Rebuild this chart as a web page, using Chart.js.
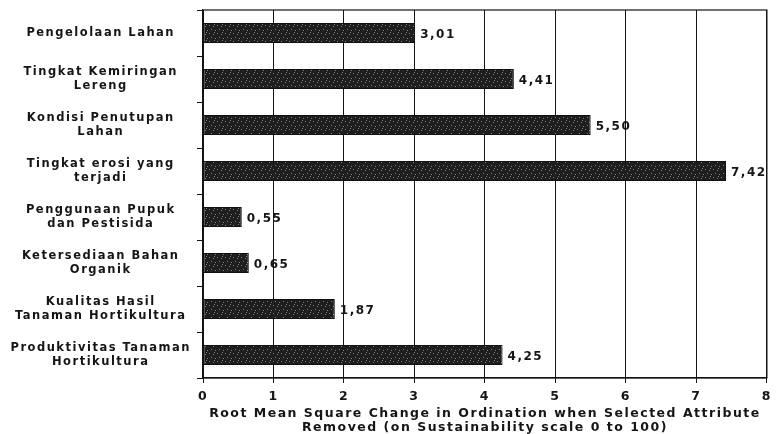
<!DOCTYPE html>
<html>
<head>
<meta charset="utf-8">
<script src="https://cdn.jsdelivr.net/npm/chart.js@4.4.1/dist/chart.umd.min.js"></script>
<style>
  html, body { margin: 0; padding: 0; background: #fff; }
  #wrap { width: 778px; height: 434px; }
</style>
</head>
<body>
<div id="wrap"><canvas id="chart_rms"></canvas></div>
<script>
const attributes = [
    'Pengelolaan Lahan',
    ['Tingkat Kemiringan', 'Lereng'],
    ['Kondisi Penutupan', 'Lahan'],
    ['Tingkat erosi yang', 'terjadi'],
    ['Penggunaan Pupuk', 'dan Pestisida'],
    ['Ketersediaan Bahan', 'Organik'],
    ['Kualitas Hasil', 'Tanaman Hortikultura'],
    ['Produktivitas Tanaman', 'Hortikultura']
];
const rmsValues = [3.01, 4.41, 5.50, 7.42, 0.55, 0.65, 1.87, 4.25];
const xTicks = [0, 1, 2, 3, 4, 5, 6, 7, 8];
const xTitle = ['Root Mean Square Change in Ordination when Selected Attribute', 'Removed (on Sustainability scale 0 to 100)'];

const ink = '#151515';
const fontFamily = '"DejaVu Sans", Verdana, sans-serif';

// speckled dark fill, like the scanned bars
function speckle() {
    const c = document.createElement('canvas');
    c.width = 8; c.height = 8;
    const g = c.getContext('2d');
    g.fillStyle = '#1e1e1e';
    g.fillRect(0, 0, 8, 8);
    g.fillStyle = '#808080';
    [[1, 1], [5, 2], [3, 5], [7, 6], [6, 0]].forEach(function (p) {
        g.fillRect(p[0], p[1], 1, 1);
    });
    return g.createPattern(c, 'repeat');
}

// the scanned lettering is wide, so open it up a little
const spacing = {
    id: 'spacing',
    beforeLayout(chart) { chart.ctx.letterSpacing = '1.5px'; },
    beforeDraw(chart) { chart.ctx.letterSpacing = '1.5px'; }
};

const frame = {
    id: 'frame',
    afterDraw(chart) {
        const a = chart.chartArea;
        const ctx = chart.ctx;
        ctx.save();
        ctx.strokeStyle = ink;
        ctx.lineWidth = 1.2;
        ctx.strokeRect(a.left, a.top, a.right - a.left, a.bottom - a.top);
        ctx.restore();
    }
};

const valueLabels = {
    id: 'valueLabels',
    afterDatasetsDraw(chart) {
        const ctx = chart.ctx;
        const meta = chart.getDatasetMeta(0);
        ctx.save();
        ctx.font = 'bold 12px ' + fontFamily;
        ctx.fillStyle = ink;
        ctx.textBaseline = 'middle';
        ctx.textAlign = 'left';
        meta.data.forEach(function (bar, i) {
            const txt = rmsValues[i].toFixed(2).replace('.', ',');
            ctx.fillText(txt, bar.x + 5, bar.y + 2);
        });
        ctx.restore();
    }
};

const data = {
    labels: attributes,
    datasets: [{
        data: rmsValues,
        backgroundColor: speckle(),
        borderColor: '#111',
        borderWidth: 1,
        borderSkipped: false,
        categoryPercentage: 1,
        barPercentage: 0.44
    }]
};

const config = {
    type: 'bar',
    data: data,
    options: {
        indexAxis: 'y',
        responsive: true,
        maintainAspectRatio: false,
        animation: false,
        layout: { padding: { left: 2, right: 11, top: 10, bottom: 0 } },
        plugins: {
            legend: { display: false },
            tooltip: { enabled: false }
        },
        scales: {
            x: {
                min: 0,
                max: 8,
                afterBuildTicks: function (scale) {
                    scale.ticks = xTicks.map(function (v) { return { value: v }; });
                },
                afterFit: function (scale) { scale.height = 56; },
                grid: { color: ink, lineWidth: 1, tickLength: 5 },
                border: { color: ink, width: 1.2 },
                ticks: {
                    color: ink,
                    padding: 6,
                    font: { family: fontFamily, size: 12.5, weight: 'bold' }
                },
                title: {
                    display: true,
                    text: xTitle,
                    color: ink,
                    padding: { top: 0, bottom: -1 },
                    font: { family: fontFamily, size: 12.5, weight: 'bold', lineHeight: 1.12 }
                }
            },
            y: {
                afterFit: function (scale) {
                    scale.width = 201;
                    scale.paddingTop = 0;
                    scale.paddingBottom = 0;
                },
                grid: { offset: true, drawOnChartArea: false, color: ink, tickLength: 6 },
                border: { color: ink, width: 1.2 },
                ticks: {
                    color: ink,
                    crossAlign: 'center',
                    padding: 6,
                    font: { family: fontFamily, size: 11.5, weight: 'bold', lineHeight: 1.2 }
                }
            }
        }
    },
    plugins: [spacing, frame, valueLabels]
};

const myChart = new Chart(document.getElementById('chart_rms'), config);
</script>
</body>
</html>
